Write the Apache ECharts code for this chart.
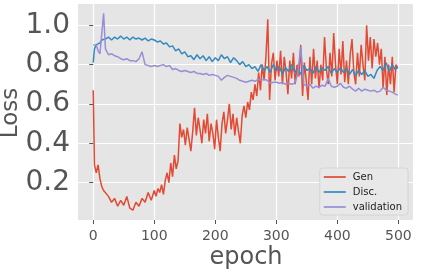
<!DOCTYPE html>
<html>
<head>
<meta charset="utf-8">
<script src="https://cdn.jsdelivr.net/npm/echarts@6/dist/echarts.min.js"></script>
<style>html,body{margin:0;padding:0;background:#fff;}#c{width:423px;height:280px;}</style>
</head>
<body>
<div id="c"></div>
<script>
const epochs = [0,2,5,8,11,14,17,20,25,30,35,40,45,50,55,60,65,70,75,80,85,90,95,100,105,110,115,120,125,130,135,140,145,150,155,160,165,170,175,180,185,190,195,200,205,210,215,220,225,230,235,240,245,250,255,260,265,270,275,280,285,290,295,300,305,310,315,320,325,330,335,340,345,350,355,360,365,370,375,380,385,390,395,400,405,410,415,420,425,430,435,440,445,450,455,460,465,470,475,480,485,490,495,499];
const genEpochs = [0,2,5,8,11,14,17,20,25,30,35,40,45,50,55,60,65,70,75,80,85,90,95,
  100,103,106,109,112,115,118,121,124,127,130,133,136,139,142,145,148,151,154,157,160,163,166,169,172,175,178,181,184,187,190,193,196,199,
  202,205,208,211,214,217,220,223,226,229,232,235,238,241,244,247,250,253,256,259,262,265,268,271,274,277,280,283,286,289,292,295,298,
  301,304,307,310,313,316,319,322,325,328,331,334,337,340,343,346,349,352,355,358,361,364,367,370,373,376,379,382,385,388,391,394,397,
  400,403,406,409,412,415,418,421,424,427,430,433,436,439,442,445,448,451,454,457,460,463,466,469,472,475,478,481,484,487,490,493,496,499];
const gen = [0.67,0.29,0.25,0.29,0.22,0.18,0.16,0.15,0.13,0.10,0.12,0.08,0.11,0.085,0.13,0.07,0.06,0.10,0.08,0.12,0.10,0.15,0.11,
  0.16,0.13,0.17,0.15,0.19,0.14,0.21,0.25,0.20,0.30,0.23,0.34,0.27,0.31,0.50,0.43,0.47,0.39,0.48,0.42,0.36,0.46,0.58,0.44,0.53,0.47,0.40,0.52,0.45,0.55,0.41,0.50,0.45,0.37,
  0.52,0.43,0.36,0.50,0.56,0.45,0.52,0.60,0.47,0.55,0.44,0.53,0.46,0.40,0.54,0.59,0.53,0.61,0.57,0.66,0.62,0.70,0.64,0.76,0.67,0.80,0.72,0.84,1.03,0.62,0.80,0.86,0.72,
  0.82,0.74,0.87,0.70,0.84,0.76,0.65,0.82,0.73,0.86,0.70,0.80,0.74,0.90,0.64,0.81,0.72,0.62,0.84,0.70,0.88,0.73,0.82,0.68,0.80,0.72,0.94,0.78,0.70,0.86,0.74,0.96,0.80,
  0.70,0.88,0.75,0.92,0.71,0.82,0.70,0.85,0.93,0.76,0.70,0.86,0.74,0.90,0.80,0.72,1.00,0.82,0.94,0.78,0.93,0.84,0.91,0.80,0.88,0.68,0.84,0.645,0.80,0.70,0.84,0.66,0.80,0.78];
const disc = [0.81,0.88,0.90,0.89,0.91,0.925,0.935,0.93,0.94,0.925,0.94,0.93,0.945,0.93,0.94,0.925,0.94,0.93,0.935,0.925,0.935,0.92,0.93,0.925,0.915,0.92,0.905,0.91,0.89,0.895,0.87,0.88,0.855,0.865,0.84,0.845,0.825,0.85,0.83,0.845,0.82,0.84,0.815,0.835,0.82,0.85,0.83,0.84,0.81,0.835,0.82,0.80,0.815,0.79,0.80,0.78,0.79,0.765,0.80,0.77,0.79,0.76,0.80,0.77,0.79,0.75,0.785,0.765,0.80,0.76,0.78,0.75,0.795,0.77,0.78,0.755,0.79,0.76,0.785,0.77,0.79,0.755,0.78,0.76,0.785,0.76,0.78,0.75,0.775,0.745,0.77,0.75,0.77,0.74,0.75,0.73,0.77,0.79,0.77,0.81,0.765,0.80,0.775,0.79];
const validation = [0.90,0.905,0.90,0.87,0.855,0.86,1.06,0.88,0.85,0.855,0.845,0.84,0.83,0.825,0.83,0.82,0.82,0.815,0.83,0.865,0.80,0.795,0.79,0.795,0.79,0.795,0.80,0.79,0.795,0.775,0.78,0.77,0.765,0.77,0.765,0.76,0.765,0.755,0.755,0.75,0.755,0.745,0.75,0.745,0.74,0.72,0.735,0.745,0.74,0.735,0.73,0.72,0.715,0.71,0.715,0.72,0.715,0.725,0.72,0.725,0.72,0.705,0.71,0.71,0.705,0.71,0.70,0.705,0.70,0.705,0.75,0.89,0.70,0.69,0.70,0.68,0.69,0.685,0.695,0.69,0.73,0.69,0.685,0.69,0.705,0.685,0.68,0.69,0.675,0.665,0.68,0.665,0.675,0.67,0.665,0.67,0.66,0.665,0.685,0.67,0.665,0.66,0.65,0.645];
const xTicks = [0,100,200,300,400,500];
const yTicks = [0.2,0.4,0.6,0.8,1.0];
const seriesNames = ['Gen','Disc.','validation'];
const colors = ['#E24A33','#348ABD','#988ED5'];

function pairs(xs, vals){ return xs.map((e,i)=>[e, vals[i]]); }

const font = 'DejaVu Sans';
const chart = echarts.init(document.getElementById('c'), null, {renderer:'canvas'});
chart.setOption({
  animation: false,
  grid: {left: 78, right: 10, top: 4, bottom: 60, show: true, backgroundColor: '#E5E5E5', borderWidth: 0},
  xAxis: {
    type: 'value', min: -24.95, max: 523.95,
    axisLine: {show: false},
    axisTick: {show: true, length: 4, inside: false, lineStyle: {color: '#555555', width: 1}, customValues: xTicks},
    axisLabel: {customValues: xTicks, fontFamily: font, fontSize: 14, color: '#555555', margin: 9},
    splitLine: {show: true, lineStyle: {color: '#FFFFFF', width: 1.2}}
  },
  yAxis: {
    type: 'value', min: 0.01, max: 1.108,
    axisLine: {show: false},
    axisTick: {show: true, length: 4, lineStyle: {color: '#555555', width: 1}, customValues: yTicks},
    axisLabel: {customValues: yTicks, fontFamily: font, fontSize: 28, color: '#555555', margin: 8,
      formatter: v => v.toFixed(1)},
    splitLine: {show: true, lineStyle: {color: '#FFFFFF', width: 1.2}}
  },
  legend: {
    right: 15, bottom: 65, orient: 'vertical',
    backgroundColor: 'rgba(232,232,232,0.9)', borderColor: '#D4D4D4', borderWidth: 1, borderRadius: 3,
    padding: [4, 6, 3, 4], itemGap: 5, itemWidth: 22, itemHeight: 2,
    textStyle: {fontFamily: font, fontSize: 10, color: '#222222', padding: [0,0,0,2]},
    data: seriesNames.map((n,i)=>({name: n, icon: 'rect', itemStyle: {color: colors[i], opacity: 0.85}}))
  },
  graphic: [
    {type: 'text', x: 11, y: 113, rotation: Math.PI/2,
     style: {text: 'Loss', font: '23px "DejaVu Sans"', fill: '#555555', align: 'center', verticalAlign: 'middle'}},
    {type: 'text', x: 246, y: 258,
     style: {text: 'epoch', font: '24px "DejaVu Sans"', fill: '#555555', align: 'center', verticalAlign: 'middle'}}
  ],
  series: [pairs(genEpochs, gen), pairs(epochs, disc), pairs(epochs, validation)].map((d,i)=>({
    name: seriesNames[i], type: 'line', data: d, showSymbol: false, symbol: 'none',
    lineStyle: {color: colors[i], width: 1.5}, itemStyle: {color: colors[i]}, z: 2+i
  }))
});
</script>
</body>
</html>
